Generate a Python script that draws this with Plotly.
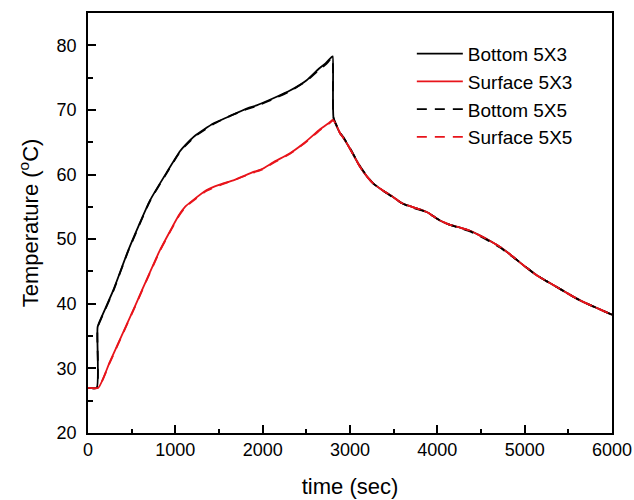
import plotly.graph_objects as go

# Heating / cooling temperature histories (time in s, temperature in °C)
time_bottom_5x3 = [0, 100, 110, 157, 290, 462, 710, 900, 1053, 1111, 1225, 1435,
                   1600, 1817, 1931, 2122, 2313, 2504, 2637, 2720, 2790, 2802,
                   2812, 2886, 2924, 3000, 3115, 3200, 3268, 3380, 3497, 3590,
                   3688, 3780, 3879, 3960, 4031, 4145, 4260, 4374, 4527, 4620,
                   4718, 4809, 4909, 5020, 5138, 5250, 5367, 5480, 5596, 5700,
                   5800, 5900, 6000]
temp_bottom_5x3 = [27.0, 27.0, 36.4, 38.0, 42.1, 48.3, 56.0, 60.3, 63.6, 64.5, 66.0, 67.9,
                   68.9, 70.2, 70.7, 71.8, 73.0, 74.6, 76.3, 77.2, 78.2, 78.3,
                   68.7, 66.4, 65.7, 64.0, 61.2, 59.6, 58.6, 57.5, 56.5, 55.6,
                   55.1, 54.7, 54.2, 53.5, 52.9, 52.2, 51.8, 51.3, 50.3, 49.6,
                   48.8, 47.9, 46.8, 45.6, 44.4, 43.5, 42.6, 41.7, 40.8, 40.1,
                   39.5, 38.9, 38.3]

time_surface_5x3 = [0, 118, 250, 400, 550, 700, 824, 950, 1040, 1111, 1200, 1359,
                    1500, 1664, 1893, 2000, 2122, 2313, 2504, 2657, 2760, 2809,
                    2886, 2924, 3000, 3115, 3200, 3268, 3380, 3497, 3590,
                    3688, 3780, 3879, 3960, 4031, 4145, 4260, 4374, 4527, 4620,
                    4718, 4809, 4909, 5020, 5138, 5250, 5367, 5480, 5596, 5700,
                    5800, 5900, 6000]
temp_surface_5x3 = [27.0, 27.0, 31.0, 35.5, 40.0, 44.6, 48.3, 51.5, 53.7, 55.0, 56.0, 57.6,
                    58.4, 59.1, 60.4, 60.9, 61.9, 63.3, 65.2, 67.0, 68.0, 68.5,
                    66.4, 65.7, 64.0, 61.2, 59.6, 58.6, 57.5, 56.5, 55.6,
                    55.1, 54.7, 54.2, 53.5, 52.9, 52.2, 51.8, 51.3, 50.3, 49.6,
                    48.8, 47.9, 46.8, 45.6, 44.4, 43.5, 42.6, 41.7, 40.8, 40.1,
                    39.5, 38.9, 38.3]

time_bottom_5x5 = [0, 100, 110, 157, 290, 462, 710, 900, 1053, 1111, 1225, 1435,
                   1600, 1817, 1931, 2122, 2313, 2504, 2637, 2720, 2775, 2798,
                   2812, 2886, 2924, 3000, 3115, 3200, 3268, 3380, 3497, 3590,
                   3688, 3780, 3879, 3960, 4031, 4145, 4260, 4374, 4527, 4620,
                   4718, 4809, 4909, 5020, 5138, 5250, 5367, 5480, 5596, 5700,
                   5800, 5900, 6000]
temp_bottom_5x5 = [27.0, 27.0, 36.3, 37.9, 42.0, 48.2, 55.9, 60.2, 63.5, 64.4, 65.9, 67.8,
                   68.9, 70.1, 70.6, 71.7, 72.9, 74.5, 76.1, 77.0, 77.8, 78.0,
                   68.8, 66.5, 65.8, 64.1, 61.3, 59.7, 58.6, 57.5, 56.4, 55.6,
                   55.0, 54.6, 54.2, 53.5, 52.9, 52.2, 51.7, 51.2, 50.2, 49.5,
                   48.7, 47.8, 46.8, 45.6, 44.4, 43.5, 42.6, 41.7, 40.8, 40.1,
                   39.5, 38.9, 38.3]

time_surface_5x5 = [0, 118, 250, 400, 550, 700, 824, 950, 1040, 1111, 1200, 1359,
                    1500, 1664, 1893, 2000, 2122, 2313, 2504, 2657, 2760, 2809,
                    2886, 2924, 3000, 3115, 3200, 3268, 3380, 3497, 3590,
                    3688, 3780, 3879, 3960, 4031, 4145, 4260, 4374, 4527, 4620,
                    4718, 4809, 4909, 5020, 5138, 5250, 5367, 5480, 5596, 5700,
                    5800, 5900, 6000]
temp_surface_5x5 = [27.0, 27.0, 30.9, 35.4, 39.9, 44.5, 48.2, 51.4, 53.6, 54.9, 55.9, 57.5,
                    58.3, 59.1, 60.3, 60.8, 61.8, 63.2, 65.1, 66.9, 67.9, 68.4,
                    66.4, 65.7, 64.0, 61.2, 59.6, 58.6, 57.5, 56.5, 55.6,
                    55.1, 54.7, 54.2, 53.5, 52.9, 52.2, 51.8, 51.3, 50.3, 49.6,
                    48.8, 47.9, 46.8, 45.6, 44.4, 43.5, 42.6, 41.7, 40.8, 40.1,
                    39.5, 38.9, 38.3]

FONT = "Liberation Sans, Arial, sans-serif"
LW = 1.8
RED = "#e8141b"
SMOOTH = 0.5

fig = go.Figure()
fig.add_trace(go.Scatter(x=time_bottom_5x3, y=temp_bottom_5x3, mode="lines",
                         name="Bottom 5X3",
                         line=dict(color="black", width=LW, shape="spline", smoothing=SMOOTH)))
fig.add_trace(go.Scatter(x=time_surface_5x3, y=temp_surface_5x3, mode="lines",
                         name="Surface 5X3",
                         line=dict(color=RED, width=LW, shape="spline", smoothing=SMOOTH)))
fig.add_trace(go.Scatter(x=time_bottom_5x5, y=temp_bottom_5x5, mode="lines",
                         name="Bottom 5X5",
                         line=dict(color="black", width=LW, dash="10px,8px",
                                   shape="spline", smoothing=SMOOTH)))
fig.add_trace(go.Scatter(x=time_surface_5x5, y=temp_surface_5x5, mode="lines",
                         name="Surface 5X5",
                         line=dict(color=RED, width=LW, dash="10px,8px",
                                   shape="spline", smoothing=SMOOTH)))

axis_common = dict(
    showline=True, linecolor="black", linewidth=1.5, mirror=True,
    ticks="inside", ticklen=8, tickwidth=1.5, tickcolor="black",
    showgrid=False, zeroline=False,
    tickfont=dict(family=FONT, size=18, color="black"),
)

fig.update_xaxes(
    range=[0, 6000], tickmode="linear", tick0=0, dtick=1000,
    minor=dict(ticks="inside", ticklen=4, tickwidth=1.5, tickcolor="black",
               dtick=500, showgrid=False),
    title=dict(text="time (sec)", font=dict(family=FONT, size=22, color="black"),
               standoff=19),
    **axis_common,
)
fig.update_yaxes(
    range=[20, 85], tickmode="linear", tick0=20, dtick=10,
    minor=dict(ticks="inside", ticklen=5, tickwidth=1.5, tickcolor="black",
               dtick=5, showgrid=False),
    ticklabelstandoff=6,
    title=dict(text="Temperature (<sup>o</sup>C)",
               font=dict(family=FONT, size=22, color="black"), standoff=12),
    **axis_common,
)

fig.update_layout(
    width=634, height=500,
    margin=dict(l=88, r=22, t=13, b=67, autoexpand=False),
    paper_bgcolor="white", plot_bgcolor="white",
    showlegend=True,
    legend=dict(x=0.618, y=0.948, xanchor="left", yanchor="top",
                bgcolor="rgba(0,0,0,0)", borderwidth=0,
                font=dict(family=FONT, size=19, color="black"),
                itemwidth=46, tracegroupgap=0),
)

fig.write_html("out.html")
